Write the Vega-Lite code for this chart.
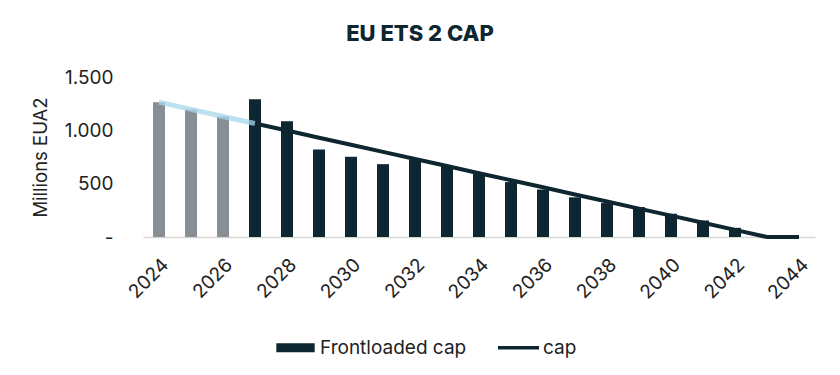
{
  "$schema": "https://vega.github.io/schema/vega-lite/v6.json",
  "width": 672,
  "height": 160,
  "autosize": {"type": "none"},
  "padding": {"left": 143, "top": 77, "right": 25, "bottom": 138},
  "background": "white",
  "title": {"text": "EU ETS 2 CAP", "fontSize": 22, "font": "Inter", "fontWeight": 800, "color": "#0d2630", "anchor": "middle", "dx": -59, "offset": 22},
  "config": {"font": "Inter", "view": {"stroke": null}},
  "datasets": {
    "bars": [
      {"year": 2024, "value": 1264, "series": "Frontloaded cap"},
      {"year": 2025, "value": 1196, "series": "Frontloaded cap"},
      {"year": 2026, "value": 1130, "series": "Frontloaded cap"},
      {"year": 2027, "value": 1292, "series": "Frontloaded cap"},
      {"year": 2028, "value": 1086, "series": "Frontloaded cap"},
      {"year": 2029, "value": 820, "series": "Frontloaded cap"},
      {"year": 2030, "value": 752, "series": "Frontloaded cap"},
      {"year": 2031, "value": 683, "series": "Frontloaded cap"},
      {"year": 2032, "value": 727, "series": "Frontloaded cap"},
      {"year": 2033, "value": 664, "series": "Frontloaded cap"},
      {"year": 2034, "value": 590, "series": "Frontloaded cap"},
      {"year": 2035, "value": 515, "series": "Frontloaded cap"},
      {"year": 2036, "value": 445, "series": "Frontloaded cap"},
      {"year": 2037, "value": 372, "series": "Frontloaded cap"},
      {"year": 2038, "value": 318, "series": "Frontloaded cap"},
      {"year": 2039, "value": 280, "series": "Frontloaded cap"},
      {"year": 2040, "value": 218, "series": "Frontloaded cap"},
      {"year": 2041, "value": 155, "series": "Frontloaded cap"},
      {"year": 2042, "value": 86, "series": "Frontloaded cap"},
      {"year": 2043, "value": 0, "series": "Frontloaded cap"},
      {"year": 2044, "value": 0, "series": "Frontloaded cap"}
    ],
    "cap": [
      {"year": 2024, "value": 1264, "series": "cap", "part": "hist"},
      {"year": 2025, "value": 1196, "series": "cap", "part": "hist"},
      {"year": 2026, "value": 1130, "series": "cap", "part": "hist"},
      {"year": 2027, "value": 1064, "series": "cap", "part": "hist"},
      {"year": 2027, "value": 1064, "series": "cap", "part": "proj"},
      {"year": 2028, "value": 998, "series": "cap", "part": "proj"},
      {"year": 2029, "value": 931, "series": "cap", "part": "proj"},
      {"year": 2030, "value": 865, "series": "cap", "part": "proj"},
      {"year": 2031, "value": 798, "series": "cap", "part": "proj"},
      {"year": 2032, "value": 731, "series": "cap", "part": "proj"},
      {"year": 2033, "value": 665, "series": "cap", "part": "proj"},
      {"year": 2034, "value": 598, "series": "cap", "part": "proj"},
      {"year": 2035, "value": 532, "series": "cap", "part": "proj"},
      {"year": 2036, "value": 466, "series": "cap", "part": "proj"},
      {"year": 2037, "value": 399, "series": "cap", "part": "proj"},
      {"year": 2038, "value": 333, "series": "cap", "part": "proj"},
      {"year": 2039, "value": 266, "series": "cap", "part": "proj"},
      {"year": 2040, "value": 200, "series": "cap", "part": "proj"},
      {"year": 2041, "value": 133, "series": "cap", "part": "proj"},
      {"year": 2042, "value": 67, "series": "cap", "part": "proj"},
      {"year": 2043, "value": 0, "series": "cap", "part": "proj"},
      {"year": 2044, "value": 0, "series": "cap", "part": "proj"}
    ]
  },
  "encoding": {
    "x": {
      "field": "year",
      "type": "ordinal",
      "scale": {"domain": [2024, 2025, 2026, 2027, 2028, 2029, 2030, 2031, 2032, 2033, 2034, 2035, 2036, 2037, 2038, 2039, 2040, 2041, 2042, 2043, 2044], "paddingInner": 0, "paddingOuter": 0},
      "axis": {
        "title": null,
        "values": [2024, 2026, 2028, 2030, 2032, 2034, 2036, 2038, 2040, 2042, 2044],
        "labelAngle": -45,
        "labelFontSize": 19,
        "labelColor": "#222222",
        "labelPadding": 18,
        "ticks": false,
        "domainColor": "#d6d6d6",
        "domainWidth": 1.5,
        "grid": false
      }
    },
    "y": {
      "field": "value",
      "type": "quantitative",
      "scale": {"domain": [0, 1500], "nice": false},
      "axis": {
        "title": "Millions EUA2",
        "titleFontSize": 18.5,
        "titleFontWeight": "normal",
        "titleColor": "#222222",
        "titlePadding": 14,
        "values": [0, 500, 1000, 1500],
        "labelExpr": "datum.value == 0 ? '-' : replace(format(datum.value, ','), ',', '.')",
        "labelFontSize": 19,
        "labelColor": "#222222",
        "labelPadding": 30,
        "domain": false,
        "ticks": false,
        "grid": false
      }
    }
  },
  "layer": [
    {
      "data": {"name": "bars"},
      "transform": [{"filter": "datum.year < 2027"}],
      "mark": {"type": "bar", "color": "#878f94", "width": 12}
    },
    {
      "data": {"name": "bars"},
      "transform": [{"filter": "datum.year >= 2027"}],
      "mark": {"type": "bar", "width": 12},
      "encoding": {
        "color": {
          "field": "series",
          "type": "nominal",
          "scale": {"domain": ["Frontloaded cap", "cap"], "range": ["#0d2630", "#0d2630"]},
          "legend": {
            "orient": "none",
            "legendX": 130,
            "legendY": 248,
            "direction": "horizontal",
            "title": null,
            "labelFontSize": 19,
            "labelColor": "#222222",
            "symbolSize": 1681,
            "labelOffset": 2,
            "columnPadding": 24,
            "encode": {
              "symbols": {
                "update": {
                  "shape": {"signal": "datum.value === 'cap' ? 'M-1,0H1' : 'M-0.85,-0.14H0.85V0.14H-0.85Z'"},
                  "fill": {"signal": "datum.value === 'cap' ? 'transparent' : '#0d2630'"},
                  "stroke": {"signal": "datum.value === 'cap' ? '#0d2630' : 'transparent'"},
                  "strokeWidth": {"value": 3.5},
                  "opacity": {"value": 1}
                }
              }
            }
          }
        }
      }
    },
    {
      "data": {"name": "cap"},
      "transform": [{"filter": "datum.part === 'hist'"}],
      "mark": {"type": "line", "color": "#a6d8ee", "strokeWidth": 5, "opacity": 0.75}
    },
    {
      "data": {"name": "cap"},
      "transform": [{"filter": "datum.part === 'proj'"}],
      "mark": {"type": "line", "strokeWidth": 4},
      "encoding": {
        "color": {"field": "series", "type": "nominal"}
      }
    }
  ]
}
